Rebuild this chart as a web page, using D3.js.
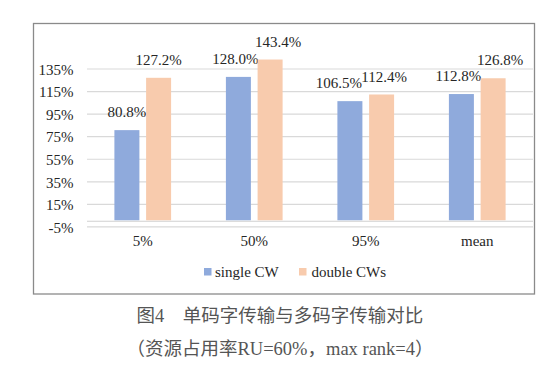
<!DOCTYPE html>
<html><head><meta charset="utf-8">
<script src="https://cdn.jsdelivr.net/npm/d3@7"></script>
<style>body{margin:0;background:#fff}</style>
</head><body>
<script>
const categories = ["5%", "50%", "95%", "mean"];
const seriesNames = ["single CW", "double CWs"];
const singleCW = [80.8, 128.0, 106.5, 112.8];
const doubleCWs = [127.2, 143.4, 112.4, 126.8];
const yTicks = [-5, 15, 35, 55, 75, 95, 115, 135];
const captionLines = ["图4\u3000单码字传输与多码字传输对比", "（资源占用率RU=60%，max rank=4）"];

const W = 558, H = 381;
const colors = ["#8FAADC", "#F8CBAD"];
const SERIF = '"Liberation Serif"';
const CAPF = '"Liberation Serif", "Noto Sans CJK SC"';
// label nudges to avoid overlap (Excel-style)
const nudge = [[0,0],[-3,8],[-11,2.5],[-3,7]];

const svg = d3.select("body").append("svg").attr("width", W).attr("height", H);

// frame
svg.append("rect").attr("x", 33.5).attr("y", 23.5).attr("width", 501).attr("height", 270.5)
  .attr("fill", "#fff").attr("stroke", "#8a8a8a").attr("stroke-width", 1.3);

const x = d3.scaleBand().domain(categories).range([87, 533]);
const y = d3.scaleLinear().domain([-5, 135]).range([226.9, 69]);

// gridlines
svg.append("g").selectAll("line").data(yTicks).join("line")
  .attr("x1", 87).attr("x2", 533).attr("y1", d => y(d)).attr("y2", d => y(d))
  .attr("stroke", "#d9d9d9").attr("stroke-width", 1.2);
// zero axis line
svg.append("line").attr("x1", 87).attr("x2", 533).attr("y1", y(0)).attr("y2", y(0))
  .attr("stroke", "#d0d0d0").attr("stroke-width", 1.2);

// y tick labels
const yAxis = d3.axisLeft(y).tickValues(yTicks).tickFormat(d => d + "%").tickSize(0).tickPadding(0);
const ya = svg.append("g").attr("transform", "translate(73.5,0)").call(yAxis);
ya.select(".domain").remove();
ya.selectAll("text").style("font-family", SERIF).style("font-size", "15px").attr("fill", "#262626").attr("dy", "0.35em");

// x labels
const xAxis = d3.axisBottom(x).tickSize(0).tickPadding(0);
const xa = svg.append("g").attr("transform", "translate(0,235)").call(xAxis);
xa.select(".domain").remove();
xa.selectAll("text").style("font-family", SERIF).style("font-size", "15px").attr("fill", "#262626").attr("dy", "0.35em").attr("y", 5.7);

// bars
const series = [singleCW, doubleCWs];
const bw = 25, gap = 6.7;
series.forEach((vals, si) => {
  const g = svg.append("g");
  const bx = (c) => x(c) + x.bandwidth()/2 + (si === 0 ? -gap/2 - bw : gap/2);
  g.selectAll("rect").data(vals).join("rect")
    .attr("x", (d, i) => bx(categories[i]))
    .attr("width", bw)
    .attr("y", d => y(d))
    .attr("height", d => y(0) - y(d) - 1)
    .attr("fill", colors[si]);
  g.selectAll("text").data(vals).join("text")
    .attr("x", (d, i) => bx(categories[i]) + bw/2 + nudge[i][si])
    .attr("y", d => y(d) - 18)
    .attr("dy", "0.35em")
    .attr("text-anchor", "middle")
    .style("font-family", SERIF).style("font-size", "15px").attr("fill", "#262626")
    .text(d => d.toFixed(1) + "%");
});

// legend
const leg = [[204, 215], [299, 311.5]];
seriesNames.forEach((n, i) => {
  svg.append("rect").attr("x", leg[i][0]).attr("y", 268).attr("width", 7.5).attr("height", 7.5).attr("fill", colors[i]);
  svg.append("text").attr("x", leg[i][1]).attr("y", 271.7).attr("dy", "0.35em")
    .style("font-family", SERIF).style("font-size", "15px").attr("fill", "#262626").text(n);
});

// caption
captionLines.forEach((t, i) => {
  svg.append("text").attr("x", 280).attr("y", i === 0 ? 316 : 349).attr("dy", "0.35em")
    .attr("text-anchor", "middle")
    .style("font-family", CAPF).style("font-size", "18.5px").attr("fill", "#555").text(t);
});
</script>
</body></html>
